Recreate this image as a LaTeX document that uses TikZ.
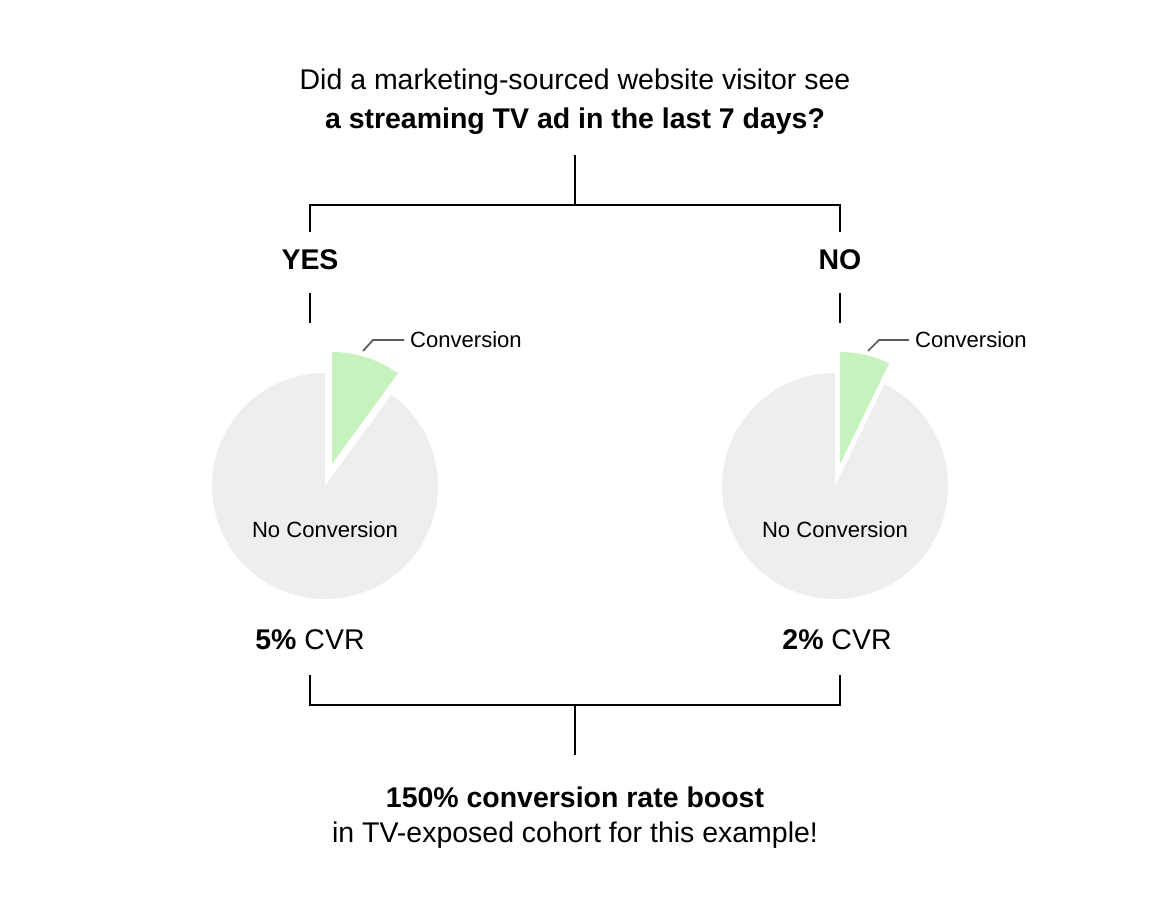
\documentclass[tikz,border=0pt]{standalone}
\usepackage{fontspec}
\setmainfont{Liberation Sans}
\definecolor{pielight}{RGB}{238,238,238}
\definecolor{piegreen}{RGB}{198,242,190}
\definecolor{leader}{RGB}{90,90,90}
\begin{document}
\begin{tikzpicture}[
  big/.style={font=\fontsize{16.2}{19}\selectfont},
  small/.style={font=\fontsize{12.55}{15}\selectfont},
  bar/.style={line width=1.1pt},
  lead/.style={draw=leader, line width=1pt},
]
\useasboundingbox (0,0) rectangle (23.28,18.44);

\node[big] (Q1) at (11.5,16.8) {Did a marketing-sourced website visitor see};
\node[big] (Q2) at (11.5,16.02) {\textbf{a streaming TV ad in the last 7 days?}};

\node[big] (Y) at (6.2,13.24) {\textbf{YES}};
\node[big] (N) at (16.8,13.24) {\textbf{NO}};

\coordinate (S1) at (11.5,15.34);
\coordinate (S2) at (11.5,14.34);
\coordinate (FY) at (6.2,13.8);
\coordinate (FN) at (16.8,13.8);
\coordinate (Y1) at (6.2,12.58);
\coordinate (Y2) at (6.2,11.98);
\coordinate (N1) at (16.8,12.58);
\coordinate (N2) at (16.8,11.98);

\draw[bar] (S1) -- (S2);
\draw[bar] (FY) |- (S2) -| (FN);
\draw[bar] (Y1) -- (Y2);
\draw[bar] (N1) -- (N2);

% pies
\fill[pielight] (6.5,8.72) -- ++(90:2.26) arc[start angle=90,end angle=414,radius=2.26] -- cycle;
\fill[piegreen] (6.64,9.16) -- ++(54:2.24) arc[start angle=54,end angle=90,radius=2.24] -- cycle;
\fill[pielight] (16.7,8.72) -- ++(90:2.26) arc[start angle=90,end angle=424,radius=2.26] -- cycle;
\fill[piegreen] (16.8,9.16) -- ++(64:2.24) arc[start angle=64,end angle=90,radius=2.24] -- cycle;

\node[small] (NC1) at (6.5,7.84) {No Conversion};
\node[small] (NC2) at (16.7,7.84) {No Conversion};
\node[small, anchor=west] (C1) at (8.08,11.64) {Conversion};
\node[small, anchor=west] (C2) at (18.18,11.64) {Conversion};

\coordinate (L1) at (7.26,11.42);
\coordinate (L2) at (7.46,11.64);
\coordinate (R1) at (17.36,11.42);
\coordinate (R2) at (17.58,11.64);
\draw[lead] (L1) -- (L2) -- (C1.west);
\draw[lead] (R1) -- (R2) -- (C2.west);

\node[big] (V1) at (6.2,5.64) {\textbf{5\%} CVR};
\node[big] (V2) at (16.74,5.64) {\textbf{2\%} CVR};

\coordinate (B1) at (6.2,4.94);
\coordinate (B2) at (16.8,4.94);
\coordinate (B3) at (11.5,4.34);
\coordinate (B4) at (11.5,3.34);
\draw[bar] (B1) |- (B3) -| (B2);
\draw[bar] (B3) -- (B4);

\node[big] (E1) at (11.5,2.5) {\textbf{150\% conversion rate boost}};
\node[big] (E2) at (11.5,1.74) {in TV-exposed cohort for this example!};

\end{tikzpicture}
\end{document}
